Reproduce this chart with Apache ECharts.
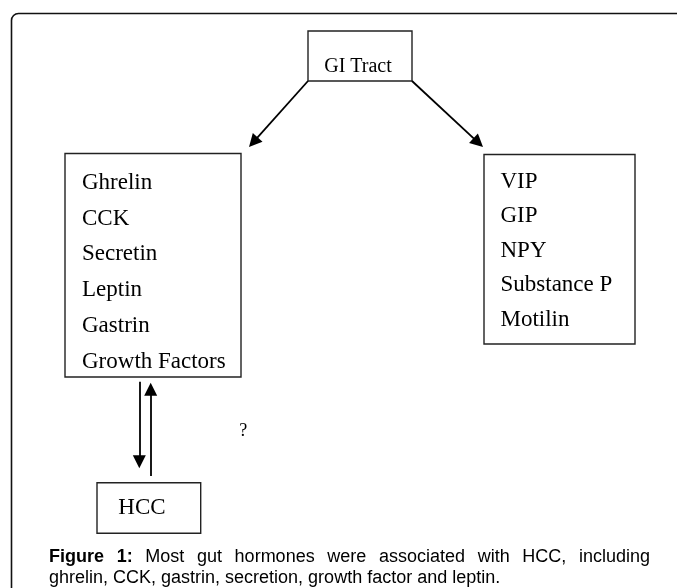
<!DOCTYPE html>
<html>
<head>
<meta charset="utf-8">
<script src="https://cdn.jsdelivr.net/npm/echarts@6/dist/echarts.min.js"></script>
<style>html,body{margin:0;padding:0;background:#fff;}#main{width:677px;height:588px;}</style>
</head>
<body>
<div id="main"></div>
<script>
// ---- content (data) ----
const topLabel = ['GI Tract'];
const leftHormones = ['Ghrelin', 'CCK', 'Secretin', 'Leptin', 'Gastrin', 'Growth Factors'];
const rightHormones = ['VIP', 'GIP', 'NPY', 'Substance P', 'Motilin'];
const bottomLabel = ['HCC'];
const questionMark = '?';
const captionBold = 'Figure 1:';
const captionLine1 = 'Most gut hormones were associated with HCC, including';
const captionLine2 = 'ghrelin, CCK, gastrin, secretion, growth factor and leptin.';

// ---- layout (pixel space of the hidden axes) ----
const W = 677, H = 588;
const SERIF = '"Liberation Serif", "Times New Roman", serif';
const SANS = '"Liberation Sans", Arial, sans-serif';
const boxes = [
  {lines: topLabel, x: 308, y: 31, w: 104, h: 50, tx: 358, ty0: 67, dy: 0, size: 20, align: 'center'},
  {lines: leftHormones, x: 65, y: 153.5, w: 176, h: 223.5, tx: 82, ty0: 183, dy: 35.7, size: 23, align: 'left'},
  {lines: rightHormones, x: 484, y: 154.5, w: 151, h: 189.5, tx: 500.5, ty0: 182, dy: 34.4, size: 23, align: 'left'},
  {lines: bottomLabel, x: 97, y: 482.7, w: 103.7, h: 50.6, tx: 118.3, ty0: 508, dy: 0, size: 23, align: 'left'}
];
const arrowHead = 13;
const arrows = [
  [[308, 81], [249, 147]],
  [[412, 81], [483, 147]],
  [[139.3, 381.7], [139.3, 468.3]],
  [[150.7, 476], [150.7, 382.7]]
];
// shorten each arrow so the triangle tip lands on the target point
const arrowData = arrows.map(function (a) {
  const dx = a[1][0] - a[0][0], dy = a[1][1] - a[0][1];
  const len = Math.sqrt(dx * dx + dy * dy);
  const k = (arrowHead / 2) / len;
  return {coords: [a[0], [a[1][0] - dx * k, a[1][1] - dy * k]]};
});

// ---- justified caption ----
const measureCtx = document.createElement('canvas').getContext('2d');
function textWidth(t, font) { measureCtx.font = font; return measureCtx.measureText(t).width; }
const capSize = 18;
const capBoldFont = 'bold ' + capSize + 'px ' + SANS;
const capFont = capSize + 'px ' + SANS;
const capLeft = 49, capRight = 650, capY1 = 557.5, capY2 = 578;
const words1 = captionBold.split(' ').map(function (w) { return {t: w, f: capBoldFont}; })
  .concat(captionLine1.split(' ').map(function (w) { return {t: w, f: capFont}; }));
let sumW = 0;
words1.forEach(function (w) { w.w = textWidth(w.t, w.f); sumW += w.w; });
const gap = (capRight - capLeft - sumW) / (words1.length - 1);
const captionGraphics = [];
let cx = capLeft;
words1.forEach(function (w) {
  captionGraphics.push({
    type: 'text', x: cx, y: capY1,
    style: {text: w.t, font: w.f, fill: '#000', align: 'left', verticalAlign: 'middle'}
  });
  cx += w.w + gap;
});
captionGraphics.push({
  type: 'text', x: capLeft, y: capY2,
  style: {text: captionLine2, font: capFont, fill: '#000', align: 'left', verticalAlign: 'middle'}
});

const chart = echarts.init(document.getElementById('main'), null, {renderer: 'canvas'});
chart.setOption({
  animation: false,
  backgroundColor: '#fff',
  grid: {left: 0, right: 0, top: 0, bottom: 0},
  xAxis: {type: 'value', min: 0, max: W, show: false},
  yAxis: {type: 'value', min: 0, max: H, inverse: true, show: false},
  graphic: [
    {
      type: 'rect', z: 0,
      shape: {x: 11.5, y: 13.5, width: 720, height: 640, r: 7},
      style: {fill: 'none', stroke: '#111', lineWidth: 1.6}
    }
  ].concat(captionGraphics),
  series: [
    {
      type: 'custom',
      coordinateSystem: 'cartesian2d',
      data: boxes.map(function (b, i) { return [b.x, b.y, i]; }),
      renderItem: function (params, api) {
        const b = boxes[params.dataIndex];
        const p1 = api.coord([b.x, b.y]);
        const p2 = api.coord([b.x + b.w, b.y + b.h]);
        const children = [{
          type: 'rect',
          shape: {x: p1[0], y: p1[1], width: p2[0] - p1[0], height: p2[1] - p1[1]},
          style: {fill: '#fff', stroke: '#222', lineWidth: 1.4}
        }];
        b.lines.forEach(function (t, k) {
          const p = api.coord([b.tx, b.ty0 + k * b.dy]);
          children.push({
            type: 'text',
            x: p[0], y: p[1],
            style: {text: t, font: b.size + 'px ' + SERIF, fill: '#000', align: b.align, verticalAlign: 'middle'}
          });
        });
        return {type: 'group', children: children};
      },
      z: 2
    },
    {
      type: 'custom',
      coordinateSystem: 'cartesian2d',
      data: [[243.3, 431.7]],
      renderItem: function (params, api) {
        const p = api.coord([api.value(0), api.value(1)]);
        return {type: 'text', x: p[0], y: p[1],
          style: {text: questionMark, font: '18px ' + SERIF, fill: '#000', align: 'center', verticalAlign: 'middle'}};
      },
      z: 2
    },
    {
      type: 'lines',
      coordinateSystem: 'cartesian2d',
      symbol: ['none', 'triangle'],
      symbolSize: arrowHead,
      lineStyle: {color: '#000', width: 1.8, opacity: 1},
      itemStyle: {color: '#000'},
      data: arrowData,
      z: 3
    }
  ]
});
</script>
</body>
</html>
